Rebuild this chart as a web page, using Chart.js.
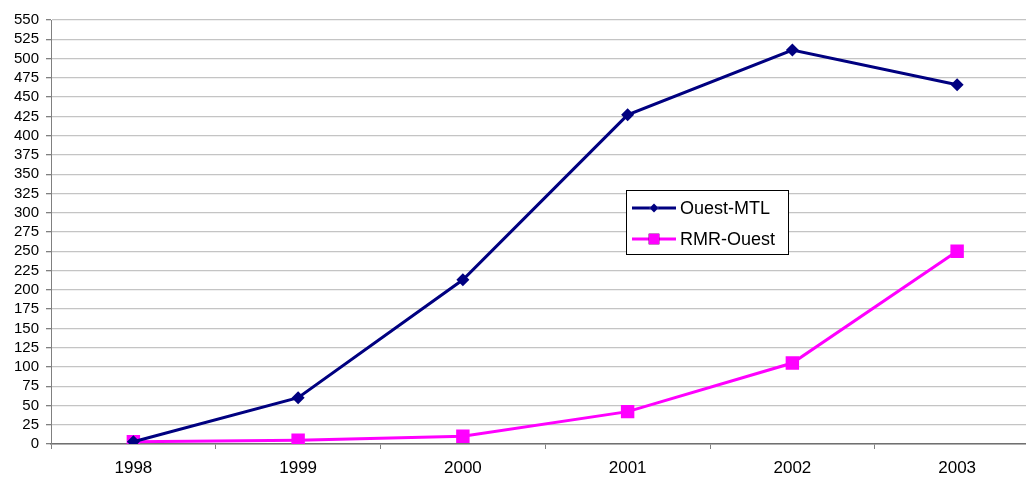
<!DOCTYPE html>
<html>
<head>
<meta charset="utf-8">
<script src="https://cdn.jsdelivr.net/npm/chart.js@4.4.1/dist/chart.umd.min.js"></script>
<style>
    html, body { margin: 0; padding: 0; background: #fff; overflow: hidden; }
    #wrap { position: absolute; left: 0; top: 0; width: 1049px; height: 479px; }
</style>
</head>
<body>
<div id="wrap"><canvas id="myChart"></canvas></div>
<script>
var years = ['1998', '1999', '2000', '2001', '2002', '2003'];
var ouestMtl = [3, 60, 213, 427, 511, 466];
var rmrOuest = [3, 5, 10, 42, 105, 250];
var seriesNames = ['Ouest-MTL', 'RMR-Ouest'];

(function () {
    var ctx = document.getElementById('myChart');

    // legend drawn inside the plot area, in a boxed frame
    var boxLegend = {
        id: 'boxLegend',
        afterDraw: function (chart, args, opts) {
            var c = chart.ctx;
            c.save();
            c.fillStyle = '#fff';
            c.fillRect(opts.x, opts.y, opts.w, opts.h);
            c.strokeStyle = '#000';
            c.lineWidth = 1;
            c.strokeRect(opts.x + 0.5, opts.y + 0.5, opts.w, opts.h);
            c.font = '18px "Liberation Sans", Arial, sans-serif';
            c.textBaseline = 'middle';
            chart.data.datasets.forEach(function (ds, i) {
                var y = opts.y + opts.rowTop + i * opts.rowGap;
                var x0 = opts.x + 6;
                c.strokeStyle = ds.borderColor;
                c.lineWidth = 3;
                c.beginPath();
                c.moveTo(x0, y);
                c.lineTo(x0 + 44, y);
                c.stroke();
                Chart.helpers.drawPoint(c, {
                    pointStyle: ds.pointStyle,
                    radius: ds.legendRadius,
                    borderWidth: 0
                }, x0 + 22, y);
                c.fillStyle = ds.borderColor;
                c.fill();
                c.fillStyle = '#000';
                c.fillText(ds.label, x0 + 48, y + 1);
            });
            c.restore();
        }
    };

    new Chart(ctx, {
        type: 'line',
        plugins: [boxLegend],
        data: {
            labels: years,
            datasets: [{
                label: seriesNames[0],
                data: ouestMtl,
                borderColor: '#000080',
                backgroundColor: '#000080',
                borderWidth: 3,
                pointStyle: 'rectRot',
                pointRadius: 6.5,
                pointBorderWidth: 0,
                legendRadius: 4.5
            }, {
                label: seriesNames[1],
                data: rmrOuest,
                borderColor: '#ff00ff',
                backgroundColor: '#ff00ff',
                borderWidth: 3,
                pointStyle: 'rect',
                pointRadius: 9.5,
                pointBorderWidth: 0,
                legendRadius: 7.5
            }]
        },
        options: {
            responsive: true,
            maintainAspectRatio: false,
            animation: false,
            layout: { padding: { top: 20, right: 2, bottom: 0, left: 0 } },
            plugins: {
                legend: { display: false },
                tooltip: { enabled: false },
                boxLegend: { x: 626, y: 190, w: 162, h: 64, rowTop: 18, rowGap: 31 }
            },
            scales: {
                x: {
                    offset: true,
                    grid: {
                        offset: true,
                        drawOnChartArea: false,
                        drawTicks: true,
                        tickLength: 5,
                        tickColor: '#808080'
                    },
                    border: { color: '#707070', width: 1.5 },
                    ticks: {
                        color: '#000',
                        padding: 9,
                        maxRotation: 0,
                        font: { family: '"Liberation Sans", Arial, sans-serif', size: 17 }
                    },
                    afterFit: function (scale) { scale.height = 35; }
                },
                y: {
                    min: 0,
                    max: 550,
                    ticks: {
                        stepSize: 25,
                        autoSkip: false,
                        color: '#000',
                        padding: 7,
                        font: { family: '"Liberation Sans", Arial, sans-serif', size: 15 }
                    },
                    grid: {
                        color: '#c4c4c4',
                        lineWidth: 1.3,
                        tickLength: 5,
                        tickColor: '#808080'
                    },
                    border: { color: '#808080', width: 1 },
                    afterFit: function (scale) { scale.width = 51; }
                }
            }
        }
    });
})()
</script>
</body>
</html>
